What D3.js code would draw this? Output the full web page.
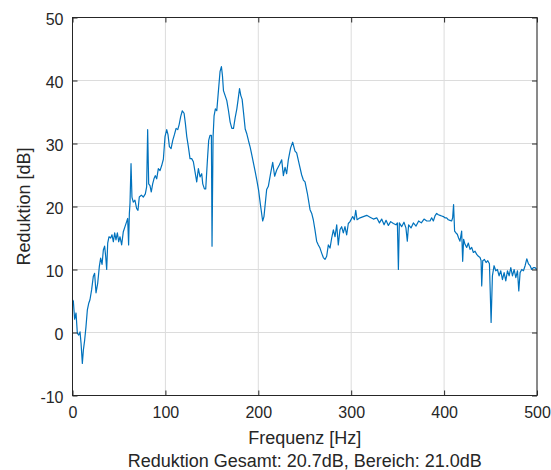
<!DOCTYPE html>
<html>
<head>
<meta charset="utf-8">
<script src="https://cdn.jsdelivr.net/npm/d3@7"></script>
<style>
  body { margin: 0; background: #fff; }
  svg { display: block; font-family: "Liberation Sans", Arial, sans-serif; }
</style>
</head>
<body>
<script>
// frequency points (Hz) and noise reduction (dB)
let freqHz = [
    0, 0.9, 2.3, 3.8, 5.2, 6.7, 8.1, 9.2, 10.6, 11.7, 13.1, 14.5, 16, 17.4, 18.8, 20.6, 22.4, 23.8, 25.3, 27.1,
    28.9, 30.3, 31.8, 33.2, 34.6, 35.7, 36.8, 37.9, 39.3, 41.1, 42.5, 44, 45.4, 46.8, 48.3, 49.7, 51.1, 52.9, 54.7, 56.5,
    58.3, 59.4, 60.4, 61.2, 61.9, 63, 64, 65.4, 67.2, 69, 70.5, 71.9, 74.1, 76.2, 78.4, 79.8, 80.9, 82, 83.4, 84.8,
    86.3, 87.7, 89.1, 90.6, 92.4, 94.2, 96, 97.8, 99.6, 101.4, 102.8, 104.3, 106.1, 107.9, 109.7, 111.5, 113.3, 114.8, 116.5, 118.2,
    120.1, 121.5, 123, 124.7, 126.5, 128.3, 130.1, 131.9, 133.7, 135.5, 137.3, 139.1, 140.2, 142, 143.4, 145.2, 146.6, 148, 149.5, 150.2,
    151.3, 152.4, 153.8, 155.3, 157.1, 158.8, 160.3, 161.4, 162.5, 164.3, 166.1, 167.9, 169.7, 171.5, 173.3, 175.1, 176.9, 178.3, 179.8, 181.2,
    182.6, 184.1, 185.9, 187.7, 189.5, 191.3, 193.1, 194.9, 196.7, 198.5, 200.3, 202.1, 204.7, 206.1, 209, 210.8, 213.3, 215.5, 217.6, 219.8,
    222.6, 225.2, 227, 228.8, 230.5, 232.3, 234.8, 237, 239.5, 241.3, 244.2, 246.7, 248.5, 250.3, 252.8, 255.7, 257.5, 259.2, 261, 262.8,
    264.6, 266.4, 268.2, 270, 271.8, 273.6, 275.4, 277.2, 279, 280.8, 282.6, 284.4, 286.1, 287.9, 289.7, 291.5, 293.3, 295.1, 296.9, 298.7,
    301.6, 303.4, 304.9, 306.3, 309.5, 313.1, 316.7, 320.3, 323.9, 327.5, 330.4, 332.8, 335.4, 337.5, 340, 342.5, 345.4, 348.2, 349.7, 350.8,
    351.8, 354.3, 356.8, 358.9, 360.4, 361.8, 364.4, 366.9, 369.8, 372.6, 375.5, 378.4, 381.3, 384.8, 386.6, 388.4, 390.2, 392, 393.8, 395.6,
    397.4, 399.2, 400.9, 402.7, 404.5, 406.3, 408.1, 409.2, 410.2, 411.3, 412.8, 414.2, 415.6, 417.1, 418.9, 420, 421, 422.5, 424.3, 426.1,
    427.9, 429.7, 431.5, 433.3, 435.1, 436.9, 438.7, 439.8, 440.5, 441.6, 443.4, 445.2, 447, 448.8, 450.6, 452, 453.8, 455.6, 457.4, 459.2,
    461, 462.8, 464.6, 466.4, 468.2, 470, 471.8, 473.6, 475.4, 477.2, 479, 480.4, 481.8, 483.6, 485.4, 487.2, 489, 490.8, 492.6, 494.3,
    496.1, 497.9, 499.7
];
let reductionDb = [
    5.2, 5.0, 2.1, 3.1, -0.1, -0.4, 0.1, -1.7, -4.9, -2.8, -1.2, 0.9, 3.6, 4.6, 5.2, 6.8, 8.9, 9.4, 6.3, 7.8,
    10.5, 11.8, 10.8, 13.1, 13.7, 12.1, 10.0, 14.2, 15.2, 15.0, 15.5, 14.4, 15.8, 14.7, 15.8, 14.4, 15.2, 13.9, 16.0, 16.8,
    17.6, 18.1, 13.9, 18.9, 20.5, 26.8, 21.5, 20.7, 21.0, 19.7, 19.4, 21.5, 21.8, 21.5, 22.0, 23.1, 32.2, 23.6, 23.3, 22.3,
    23.6, 24.4, 24.9, 24.4, 26.0, 25.7, 26.5, 27.5, 31.1, 32.2, 31.4, 29.5, 29.2, 30.5, 31.4, 32.4, 32.2, 33.0, 34.3, 35.2,
    34.8, 33.2, 31.1, 29.5, 27.6, 27.6, 27.1, 25.5, 23.9, 26.0, 24.7, 25.2, 23.6, 22.8, 22.8, 27.3, 30.5, 31.3, 31.3, 13.7,
    31.0, 34.4, 35.5, 35.2, 38.4, 41.4, 42.2, 40.8, 38.4, 37.6, 36.8, 35.2, 33.4, 32.4, 32.4, 34.1, 35.5, 37.0, 38.7, 37.6,
    37.0, 34.9, 32.3, 31.5, 30.4, 29.4, 28.1, 26.8, 25.5, 24.1, 22.6, 20.5, 17.7, 18.4, 22.7, 23.2, 25.3, 27.0, 24.8, 25.8,
    26.6, 27.4, 24.9, 26.2, 25.2, 27.4, 29.3, 30.2, 28.8, 28.5, 26.6, 25.0, 24.2, 23.9, 22.1, 19.5, 18.9, 17.9, 16.3, 14.5,
    13.9, 13.4, 12.6, 11.9, 11.6, 12.1, 13.9, 13.4, 15.0, 16.3, 15.2, 17.1, 13.9, 16.3, 16.8, 15.8, 16.8, 15.5, 17.3, 17.6,
    18.4, 17.9, 19.4, 17.9, 18.2, 18.4, 18.6, 18.3, 18.0, 18.2, 17.4, 18.0, 17.1, 17.8, 17.0, 17.6, 17.3, 17.1, 17.4, 10.0,
    17.4, 16.8, 17.5, 16.6, 14.5, 17.1, 16.6, 17.4, 16.9, 17.7, 17.4, 18.0, 17.7, 17.7, 18.2, 17.7, 18.5, 18.9, 18.7, 18.6,
    18.5, 18.4, 18.2, 18.2, 17.9, 17.8, 17.7, 18.2, 20.3, 16.1, 15.8, 15.6, 15.0, 14.5, 16.1, 11.3, 14.8, 14.0, 13.5, 14.2,
    13.2, 13.5, 12.7, 12.9, 12.4, 12.1, 11.9, 11.4, 7.4, 11.4, 11.6, 11.1, 11.4, 10.9, 1.6, 9.0, 10.6, 9.8, 10.0, 9.0,
    9.8, 8.4, 9.5, 8.2, 9.8, 9.0, 10.3, 9.0, 10.0, 8.7, 9.8, 6.6, 9.5, 10.0, 9.8, 10.6, 11.7, 10.9, 10.6, 10.0,
    10.3, 10.3, 10.0
];

let xTicks = [0, 100, 200, 300, 400, 500];
let yTicks = [-10, 0, 10, 20, 30, 40, 50];
let xLabel = "Frequenz [Hz]";
let yLabel = "Reduktion [dB]";
let subTitle = "Reduktion Gesamt: 20.7dB, Bereich: 21.0dB";

let w = 551;
let h = 470;
let margin = {top: 17.5, right: 14, bottom: 74.5, left: 72.5};
let pw = w - margin.left - margin.right;
let ph = h - margin.top - margin.bottom;

let svg = d3.select("body")
    .append("svg")
    .attr("width", w)
    .attr("height", h);

let g = svg.append("g")
    .attr("transform", "translate(" + margin.left + "," + margin.top + ")");

let xScale = d3.scaleLinear().domain([0, 500]).range([0, pw]);
let yScale = d3.scaleLinear().domain([-10, 50]).range([ph, 0]);

// grid (matlab style, light gray)
g.append("g")
    .selectAll("line")
    .data(xTicks)
    .enter()
    .append("line")
    .attr("x1", d => xScale(d)).attr("x2", d => xScale(d))
    .attr("y1", 0).attr("y2", ph)
    .attr("stroke", "#dcdcdc")
    .attr("stroke-width", 1);

g.append("g")
    .selectAll("line")
    .data(yTicks)
    .enter()
    .append("line")
    .attr("x1", 0).attr("x2", pw)
    .attr("y1", d => yScale(d)).attr("y2", d => yScale(d))
    .attr("stroke", "#dcdcdc")
    .attr("stroke-width", 1);

// the curve
let line = d3.line()
    .x((d, i) => xScale(freqHz[i]))
    .y(d => yScale(d));

g.append("path")
    .datum(reductionDb)
    .attr("d", line)
    .attr("fill", "none")
    .attr("stroke", "#0072BD")
    .attr("stroke-width", 1.2)
    .attr("stroke-linejoin", "round");

// axes, ticks pointing inward; box on so ticks on all sides
let tickLen = 5;
let axisColor = "#262626";
let plainFmt = d => String(d);   // matlab uses a plain hyphen for negatives

function styleAxis(sel) {
    sel.select(".domain").remove();
    sel.selectAll(".tick line").attr("stroke", axisColor).attr("stroke-width", 1);
    sel.selectAll(".tick text")
        .attr("fill", axisColor)
        .attr("font-size", "16px")
        .attr("font-family", "Liberation Sans, Arial, sans-serif");
}

g.append("g")
    .attr("transform", "translate(0," + ph + ")")
    .call(d3.axisBottom(xScale).tickValues(xTicks).tickFormat(plainFmt).tickSizeInner(-tickLen).tickSizeOuter(0).tickPadding(11))
    .call(styleAxis);

g.append("g")
    .call(d3.axisTop(xScale).tickValues(xTicks).tickSizeInner(-tickLen).tickSizeOuter(0).tickFormat(""))
    .call(styleAxis);

g.append("g")
    .call(d3.axisLeft(yScale).tickValues(yTicks).tickFormat(plainFmt).tickSizeInner(-tickLen).tickSizeOuter(0).tickPadding(9))
    .call(styleAxis)
    .selectAll(".tick text").attr("dy", "0.45em");

g.append("g")
    .attr("transform", "translate(" + pw + ",0)")
    .call(d3.axisRight(yScale).tickValues(yTicks).tickSizeInner(-tickLen).tickSizeOuter(0).tickFormat(""))
    .call(styleAxis);

// box
g.append("rect")
    .attr("x", 0).attr("y", 0)
    .attr("width", pw).attr("height", ph)
    .attr("fill", "none")
    .attr("stroke", axisColor)
    .attr("stroke-width", 1);

// labels
svg.append("text")
    .attr("x", margin.left + pw / 2)
    .attr("y", 444)
    .attr("text-anchor", "middle")
    .attr("font-size", "18px")
    .attr("fill", axisColor)
    .text(xLabel);

svg.append("text")
    .attr("x", margin.left + pw / 2)
    .attr("y", 467)
    .attr("text-anchor", "middle")
    .attr("font-size", "18px")
    .attr("fill", axisColor)
    .text(subTitle);

svg.append("text")
    .attr("transform", "translate(30," + (margin.top + ph / 2) + ") rotate(-90)")
    .attr("text-anchor", "middle")
    .attr("font-size", "18px")
    .attr("fill", axisColor)
    .text(yLabel);
</script>
</body>
</html>
